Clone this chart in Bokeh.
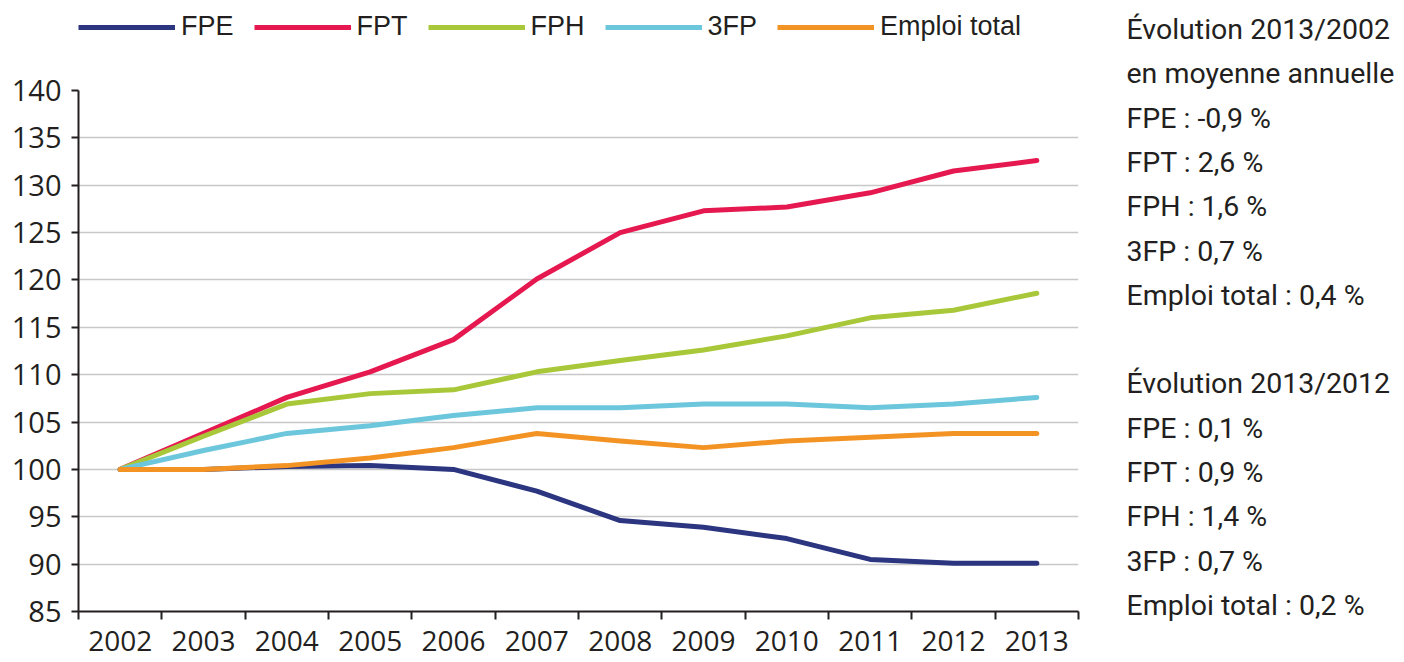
from bokeh.plotting import figure
from bokeh.models import Range1d, FixedTicker, Legend, LegendItem
from bokeh.layouts import row, column
from bokeh.core.properties import value
from bokeh.embed import file_html
from bokeh.resources import INLINE

years = ["2002", "2003", "2004", "2005", "2006", "2007", "2008", "2009", "2010", "2011", "2012", "2013"]
fpe = [100, 100, 100.3, 100.4, 100.0, 97.7, 94.6, 93.9, 92.7, 90.5, 90.1, 90.1]
fpt = [100, 103.8, 107.6, 110.3, 113.7, 120.1, 125.0, 127.3, 127.7, 129.2, 131.5, 132.6]
fph = [100, 103.5, 106.9, 108.0, 108.4, 110.3, 111.5, 112.6, 114.1, 116.0, 116.8, 118.6]
tfp = [100, 102.0, 103.8, 104.6, 105.7, 106.5, 106.5, 106.9, 106.9, 106.5, 106.9, 107.6]
emploi = [100, 100, 100.4, 101.2, 102.3, 103.8, 103.0, 102.3, 103.0, 103.4, 103.8, 103.8]

series_names = ["FPE", "FPT", "FPH", "3FP", "Emploi total"]
series_values = [fpe, fpt, fph, tfp, emploi]
colors = ["#2b3580", "#e5194f", "#a8c83a", "#6cc6dc", "#f39324"]

note_lines = [
    "Évolution 2013/2002",
    "en moyenne annuelle",
    "FPE : -0,9 %",
    "FPT : 2,6 %",
    "FPH : 1,6 %",
    "3FP : 0,7 %",
    "Emploi total : 0,4 %",
    "Évolution 2013/2012",
    "FPE : 0,1 %",
    "FPT : 0,9 %",
    "FPH : 1,4 %",
    "3FP : 0,7 %",
    "Emploi total : 0,2 %",
]
note_slots = [0, 1, 2, 3, 4, 5, 6, 8, 9, 10, 11, 12, 13]

TXT = "#231f20"
LEG_H = 58
P_W, P_H = 1100, 604
NOTES_W = 296

xs = [i + 0.5 for i in range(len(years))]

# ---------- main chart ----------
p = figure(width=P_W, height=P_H, output_backend="svg", toolbar_location=None,
           x_range=Range1d(0, len(years)), y_range=Range1d(85, 140),
           min_border_left=78, min_border_right=22, min_border_top=32, min_border_bottom=51)
p.outline_line_color = None
p.xgrid.grid_line_color = None
p.ygrid.grid_line_color = "#c8c8c8"
p.ygrid.grid_line_width = 1.5

for name, vals, c in zip(series_names, series_values, colors):
    p.line(xs, vals, line_color=c, line_width=5, line_cap="round", line_join="round")

p.xaxis.ticker = FixedTicker(ticks=xs, minor_ticks=list(range(len(years) + 1)))
p.xaxis.major_label_overrides = {x: y for x, y in zip(xs, years)}
p.xaxis.major_tick_out = 0
p.xaxis.major_tick_in = 0
p.xaxis.minor_tick_out = 8
p.xaxis.minor_tick_in = 0
p.xaxis.minor_tick_line_color = TXT
p.xaxis.minor_tick_line_width = 2
p.xaxis.axis_line_color = TXT
p.xaxis.axis_line_width = 2
p.xaxis.major_label_standoff = 11
p.xaxis.major_label_text_font = "Open Sans"
p.xaxis.major_label_text_font_size = "28px"
p.xaxis.major_label_text_color = TXT

p.yaxis.ticker = FixedTicker(ticks=list(range(85, 141, 5)))
p.yaxis.minor_tick_line_color = None
p.yaxis.major_tick_out = 7
p.yaxis.major_tick_in = 0
p.yaxis.major_tick_line_width = 2
p.yaxis.major_tick_line_color = TXT
p.yaxis.axis_line_color = TXT
p.yaxis.axis_line_width = 2
p.yaxis.major_label_standoff = 10
p.yaxis.major_label_text_font = "Open Sans"
p.yaxis.major_label_text_font_size = "29px"
p.yaxis.major_label_text_color = TXT

# ---------- legend strip ----------
lg = figure(width=P_W, height=LEG_H, output_backend="svg", toolbar_location=None,
            x_range=Range1d(0, 1), y_range=Range1d(0, 1),
            x_axis_type=None, y_axis_type=None,
            min_border_left=78, min_border_right=0, min_border_top=0, min_border_bottom=0)
lg.outline_line_color = None
lg.xgrid.visible = False
lg.ygrid.visible = False
leg_items = []
for name, vals, c in zip(series_names, series_values, colors):
    r = lg.line(xs, vals, line_color=c, line_width=5)
    leg_items.append(LegendItem(label=name, renderers=[r]))
legend = Legend(items=leg_items, orientation="horizontal", location=(0, 16),
                glyph_width=97, glyph_height=30, label_height=30, label_standoff=6, spacing=20,
                label_text_font="Liberation Sans", label_text_font_size="27px",
                label_text_color=TXT, background_fill_alpha=0,
                border_line_color=None, padding=0, margin=0)
lg.add_layout(legend, "center")

# ---------- notes panel ----------
TOTAL_H = LEG_H + P_H
nt = figure(width=NOTES_W, height=TOTAL_H, output_backend="svg", toolbar_location=None,
            x_range=Range1d(0, NOTES_W), y_range=Range1d(TOTAL_H, 0),
            x_axis_type=None, y_axis_type=None,
            min_border_left=0, min_border_right=0, min_border_top=0, min_border_bottom=0)
nt.outline_line_color = None
nt.xgrid.visible = False
nt.ygrid.visible = False
ys = [29 + s * 44.3 for s in note_slots]
nt.text(x=[26] * len(note_lines), y=ys, text=note_lines,
        text_font=value("Roboto"), text_font_size="28.5px", text_color=TXT,
        text_baseline="middle", text_align="left")

layout = row(column(lg, p), nt)
open("out.html", "w").write(file_html(layout, INLINE))
